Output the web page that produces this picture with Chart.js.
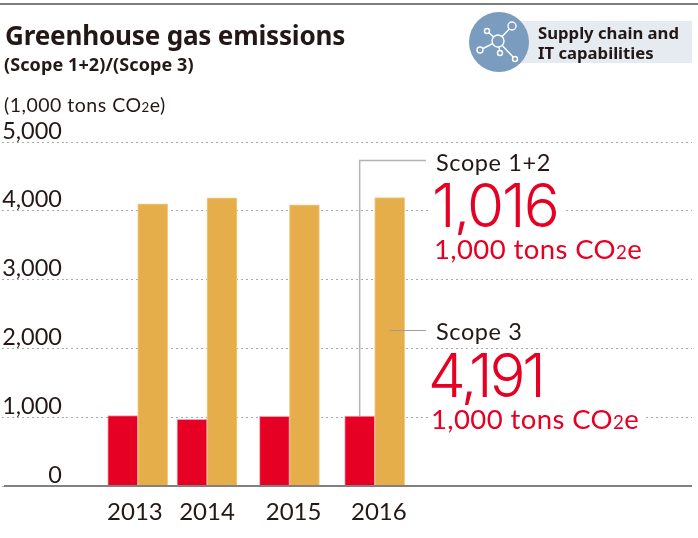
<!DOCTYPE html>
<html>
<head>
<meta charset="utf-8">
<script src="https://cdn.jsdelivr.net/npm/chart.js@4"></script>
<style>
  html, body { margin:0; padding:0; background:#fff; }
  #wrap { position:relative; width:698px; height:538px; overflow:hidden; font-family:Lato, "Noto Sans", sans-serif; color:#231815; }
  #wrap canvas { position:absolute; left:0; top:0; }
  .t { position:absolute; white-space:nowrap; line-height:1; }
  .t sub { font-size:.68em; vertical-align:baseline; }
  #topline { position:absolute; left:0; top:3px; width:698px; height:2px; background:#807c7c; }
  #title { left:5px; top:17px; font:700 26.1px "Noto Sans", sans-serif; letter-spacing:-.2px; }
  #subtitle { left:4px; top:52px; font:700 18px "Noto Sans", sans-serif; letter-spacing:.1px; }
  #unit { left:4px; top:95px; font-size:19.5px; letter-spacing:.5px; }
  #tagbg { position:absolute; left:497px; top:21px; width:195px; height:42px; background:#e6eaf1; }
  #tag { left:538px; top:23px; font:700 16.7px/20px "Noto Sans", sans-serif; white-space:pre; }
  #icon { position:absolute; left:440px; top:0; }
  .scope { left:436px; font-size:23.5px; letter-spacing:.6px; }
  .big { color:#e60023; background:#fff; padding:0 5px 0 2px; font-family:Inter, Lato, sans-serif; font-size:60px; font-weight:300; }
  #v12 { left:430px; top:175px; letter-spacing:-2px; }
  #v3 { left:426px; top:350px; letter-spacing:-3.2px; line-height:.85; }
  .sm { color:#e60023; background:#fff; padding:0 6px 0 3px; font-size:27.5px; letter-spacing:.4px; }
</style>
</head>
<body>
<div id="wrap">
  <canvas id="c" width="698" height="538"></canvas>
  <div id="topline"></div>
  <div class="t" id="title">Greenhouse gas emissions</div>
  <div class="t" id="subtitle">(Scope 1+2)/(Scope 3)</div>
  <div class="t" id="unit">(1,000 tons CO<sub>2</sub>e)</div>
  <div id="tagbg"></div>
  <svg id="icon" width="90" height="80" viewBox="440 0 90 80">
    <circle cx="499" cy="42" r="30" fill="#7a9cbe"/>
    <g stroke="#fff" stroke-width="1.4" fill="#7a9cbe">
      <path d="M498 41L512 26M498 41L487 31M498 41L480 50M498 41L500 53M498 41L515 59" fill="none"/>
      <circle cx="498" cy="41" r="6"/>
      <circle cx="512" cy="26" r="4"/>
      <circle cx="487" cy="31" r="2.5"/>
      <circle cx="480" cy="50" r="3"/>
      <circle cx="500" cy="53" r="2.5"/>
      <circle cx="515" cy="59" r="2.5"/>
    </g>
  </svg>
  <div class="t" id="tag">Supply chain and
IT capabilities</div>
  <div class="t scope" style="top:151px">Scope 1+2</div>
  <div class="t big" id="v12"></div>
  <div class="t sm" style="left:431px;top:235px">1,000 tons CO<sub>2</sub>e</div>
  <div class="t scope" style="top:320px">Scope 3</div>
  <div class="t big" id="v3"></div>
  <div class="t sm" style="left:428px;top:405px">1,000 tons CO<sub>2</sub>e</div>
</div>
<script>
const years = ['2013', '2014', '2015', '2016'];
const scope12 = [1025, 970, 1013, 1016];
const scope3 = [4100, 4190, 4085, 4191];
const yTicks = [0, 1000, 2000, 3000, 4000, 5000];

// the year columns in the original are not evenly spaced, and the labels
// do not sit quite under the middle of their columns
const yearSlots = [0, 1, 2.19, 3.42];
const labelSlots = [-0.04, 1, 2.25, 3.48];

function fmt(n){ return Number(n).toLocaleString('en-US'); }

document.getElementById('v12').textContent = fmt(scope12[3]);
document.getElementById('v3').textContent = fmt(scope3[3]);

function pairs(values){ return values.map((v, i) => ({ x: yearSlots[i], y: v })); }

// baseline and the leader lines from the 2016 bars to the callouts
const extras = {
  id: 'extras',
  afterDatasetsDraw(chart){
    const ctx = chart.ctx;
    const y = chart.scales.y;
    const red = chart.getDatasetMeta(0).data[3];
    const orange = chart.getDatasetMeta(1).data[3];
    ctx.save();
    ctx.strokeStyle = '#b4b4b4';
    ctx.lineWidth = 1.5;
    ctx.beginPath();
    ctx.moveTo(red.x, red.y);
    ctx.lineTo(red.x, 160.5);
    ctx.lineTo(426, 160.5);
    ctx.stroke();
    ctx.strokeStyle = '#a09c94';
    ctx.lineWidth = 1;
    ctx.beginPath();
    ctx.moveTo(orange.x, 330.5);
    ctx.lineTo(426, 330.5);
    ctx.stroke();
    ctx.strokeStyle = '#858080';
    ctx.lineWidth = 2;
    ctx.beginPath();
    ctx.moveTo(4, y.getPixelForValue(0));
    ctx.lineTo(692, y.getPixelForValue(0));
    ctx.stroke();
    ctx.restore();
  }
};

new Chart(document.getElementById('c').getContext('2d'), {
  type: 'bar',
  data: {
    datasets: [
      { label: 'Scope 1+2', data: pairs(scope12), backgroundColor: '#e60023', borderColor: '#f4a0ae', borderWidth: 1, borderSkipped: 'bottom', barThickness: 30 },
      { label: 'Scope 3', data: pairs(scope3), backgroundColor: '#e6ae4b', borderColor: '#f2cb85', borderWidth: 1, borderSkipped: 'bottom', barThickness: 30 }
    ]
  },
  options: {
    responsive: false,
    animation: false,
    layout: { padding: { top: 142, right: 6, left: 0, bottom: 0 } },
    plugins: { legend: { display: false }, tooltip: { enabled: false } },
    scales: {
      x: {
        type: 'linear',
        offset: false,
        min: -1.035,
        max: 8,
        afterFit(s){ s.height = 52; },
        afterBuildTicks(s){ s.ticks = labelSlots.map(v => ({ value: v })); },
        grid: { display: false },
        border: { display: false },
        ticks: {
          autoSkip: false, maxRotation: 0, padding: 4,
          color: '#231815',
          font: { family: 'Lato', size: 24 },
          callback: (v, i) => years[i]
        }
      },
      y: {
        min: 0,
        max: 5000,
        afterFit(s){ s.width = 66; },
        afterBuildTicks(s){ s.ticks = yTicks.map(v => ({ value: v })); },
        border: { display: false, dash: [2, 3] },
        grid: { color: '#aaa', tickColor: '#aaa', tickBorderDash: [2, 3], tickLength: 64 },
        ticks: {
          padding: -60,
          labelOffset: -11,
          color: '#231815',
          font: { family: 'Lato', size: 23.5 },
          callback: v => fmt(v)
        }
      }
    }
  },
  plugins: [extras]
});
</script>
</body>
</html>
